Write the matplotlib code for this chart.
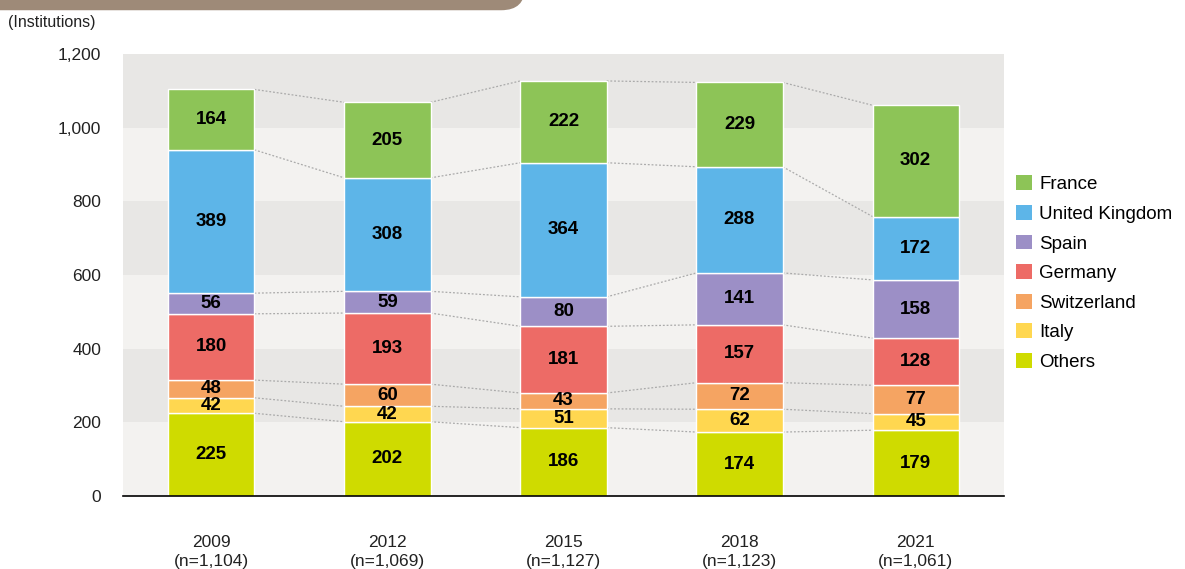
import numpy as np
import matplotlib
matplotlib.use('Agg')
import matplotlib.pyplot as plt
from matplotlib.patches import FancyBboxPatch, Patch

plt.rcParams['font.family'] = ['Liberation Sans', 'DejaVu Sans']

years = ['2009', '2012', '2015', '2018', '2021']
totals = ['1,104', '1,069', '1,127', '1,123', '1,061']
# stacked bottom to top
countries = ['Others', 'Italy', 'Switzerland', 'Germany', 'Spain', 'United Kingdom', 'France']
others = [225, 202, 186, 174, 179]
italy = [42, 42, 51, 62, 45]
switzerland = [48, 60, 43, 72, 77]
germany = [180, 193, 181, 157, 128]
spain = [56, 59, 80, 141, 158]
uk = [389, 308, 364, 288, 172]
france = [164, 205, 222, 229, 302]
colors = ['#cfdb00', '#ffd750', '#f5a462', '#ed6b66', '#9c8fc6', '#5db5e8', '#8dc457']

series = np.array([others, italy, switzerland, germany, spain, uk, france])

fig = plt.figure(figsize=(11.85, 5.69), dpi=100)
ax = fig.add_axes([0.104, 0.128, 0.743, 0.777])

# banded background
for i, lo in enumerate(range(0, 1200, 200)):
    ax.axhspan(lo, lo + 200, color='#f3f2f0' if i % 2 == 0 else '#e8e7e5', zorder=0, lw=0)

x = np.arange(len(years))
w = 0.49
bottom = np.zeros(len(years))
for vals, c in zip(series, colors):
    ax.bar(x, vals, w, bottom=bottom, color=c, edgecolor='white', linewidth=1, zorder=3)
    for xi, b, v in zip(x, bottom, vals):
        ax.text(xi, b + v / 2, str(v), ha='center', va='center', fontsize=13.5,
                fontweight='bold', color='black', zorder=4)
    bottom = bottom + vals
    # dotted connectors between bar tops
    for i in range(len(years) - 1):
        ax.plot([x[i] + w / 2, x[i + 1] - w / 2], [bottom[i], bottom[i + 1]],
                ls=(0, (1.5, 1.5)), color='#aaaaaa', lw=0.9, zorder=2)

ax.set_xlim(-0.5, 4.5)
ax.set_ylim(0, 1200)
ax.set_yticks(range(0, 1201, 200))
ax.set_yticklabels([f'{v:,}' for v in range(0, 1201, 200)], fontsize=12.5, color='#222222')
ax.set_xticks(x)
ax.set_xticklabels([f'{y}\n(n={t})' for y, t in zip(years, totals)], fontsize=12.5,
                   color='#222222', linespacing=1.3)
ax.tick_params(axis='both', length=0)
ax.tick_params(axis='x', pad=28)
ax.tick_params(axis='y', pad=16)
for s in ['top', 'right', 'left']:
    ax.spines[s].set_visible(False)
ax.spines['bottom'].set_color('black')
ax.spines['bottom'].set_linewidth(1.2)
ax.spines['bottom'].set_zorder(5)

fig.text(0.007, 0.96, '(Institutions)', fontsize=11.5, color='#222222', va='center')

# header tab
tab = FancyBboxPatch((-0.05, 0.982), 0.493, 0.1, boxstyle='round,pad=0,rounding_size=0.02',
                     transform=fig.transFigure, facecolor='#9e8a78', edgecolor='none',
                     mutation_aspect=2)
fig.patches.append(tab)

handles = [Patch(facecolor=c, label=n) for c, n in zip(colors[::-1], countries[::-1])]
fig.legend(handles=handles, loc='upper left', bbox_to_anchor=(0.851, 0.705), frameon=False,
           fontsize=13.5, handlelength=0.85, handleheight=0.85, handletextpad=0.4,
           labelspacing=0.62, borderaxespad=0)

fig.savefig('out.png', dpi=100)
